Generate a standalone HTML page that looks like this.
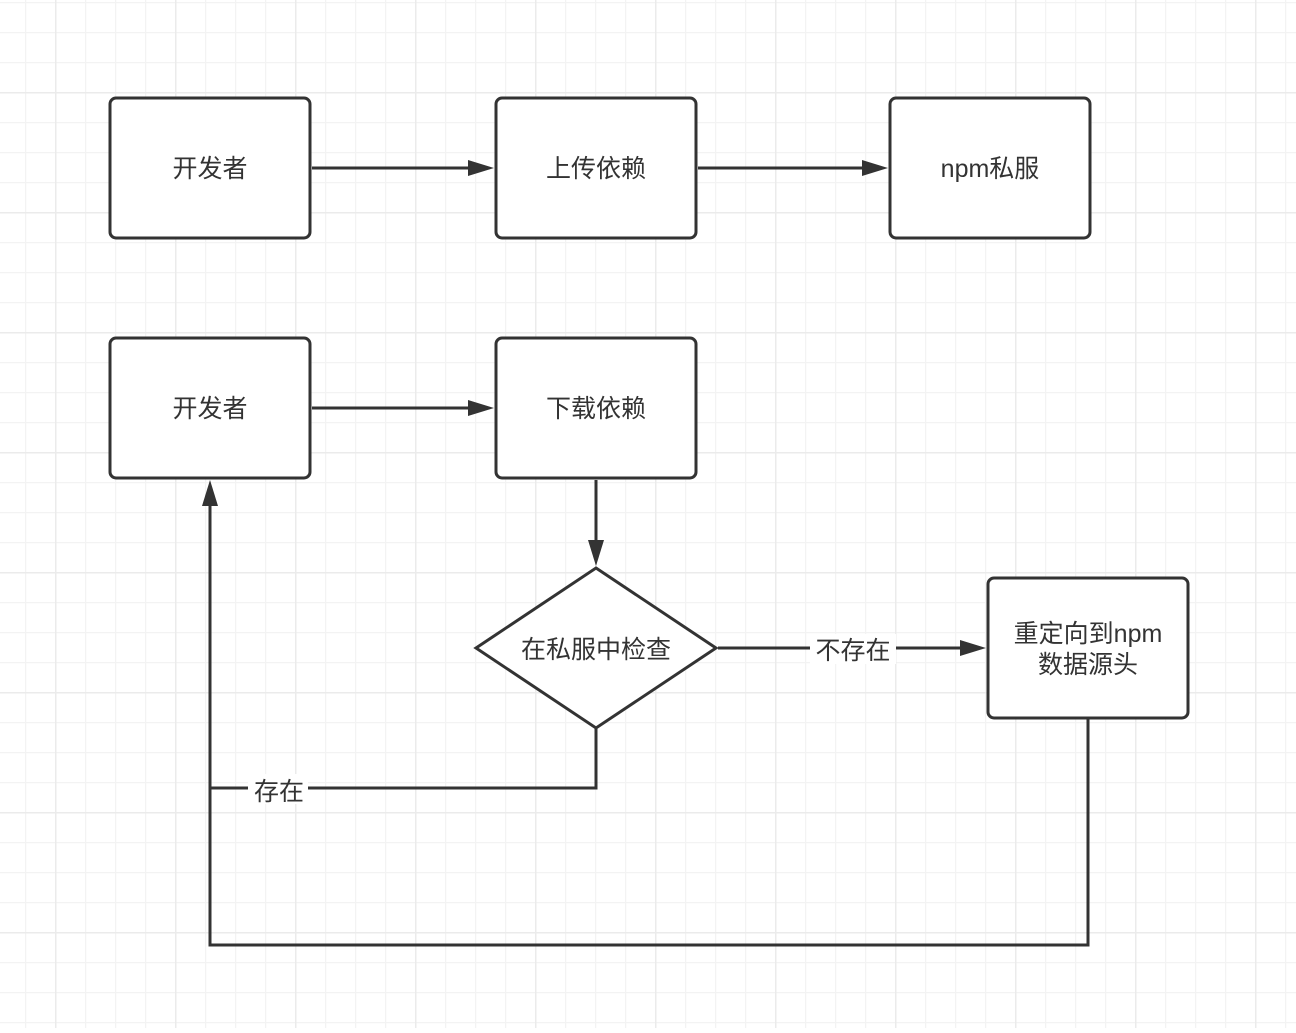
<!DOCTYPE html>
<html><head><meta charset="utf-8"><style>
html,body{margin:0;padding:0;background:#fff;}
svg text{font-family:"Liberation Sans","Noto Sans CJK SC",sans-serif;font-size:25px;fill:#333;}
</style></head><body>
<svg width="1296" height="1028" viewBox="0 0 1296 1028" xmlns="http://www.w3.org/2000/svg">
<defs>
<pattern id="minor" width="30" height="30" patternUnits="userSpaceOnUse" x="25" y="2">
<path d="M0.5 0V30M0 0.5H30" stroke="#f3f3f3" stroke-width="1.5" fill="none"/>
</pattern>
<pattern id="major" width="120" height="120" patternUnits="userSpaceOnUse" x="55" y="92">
<path d="M0.5 0V120M0 0.5H120" stroke="#ebebeb" stroke-width="2" fill="none"/>
</pattern>
</defs>
<rect width="1296" height="1028" fill="#fff"/>
<rect width="1296" height="1028" fill="url(#minor)"/>
<rect width="1296" height="1028" fill="url(#major)"/>
<g stroke="#333" stroke-width="3" fill="#fff">
<rect x="110" y="98" width="200" height="140" rx="6"/>
<rect x="496" y="98" width="200" height="140" rx="6"/>
<rect x="890" y="98" width="200" height="140" rx="6"/>
<rect x="110" y="338" width="200" height="140" rx="6"/>
<rect x="496" y="338" width="200" height="140" rx="6"/>
<rect x="988" y="578" width="200" height="140" rx="6"/>
<polygon points="596,568 716,648 596,728 476,648"/>
</g>
<g stroke="#333" stroke-width="3" fill="none">
<path d="M312 168H470"/>
<path d="M698 168H864"/>
<path d="M312 408H470"/>
<path d="M596 480V542"/>
<path d="M718 648H962"/>
<path d="M596 728V788H210V506"/>
<path d="M1088 718V945H210V780"/>
</g>
<g fill="#333">
<polygon points="494,168 468,160 468,176"/>
<polygon points="888,168 862,160 862,176"/>
<polygon points="494,408 468,400 468,416"/>
<polygon points="596,566 588,540 604,540"/>
<polygon points="986,648 960,640 960,656"/>
<polygon points="210,480 202,506 218,506"/>
</g>
<rect x="810" y="634" width="86" height="30" fill="#fff"/>
<rect x="248" y="774" width="60" height="30" fill="#fff"/>
<g text-anchor="middle">
<text x="210" y="177">开发者</text>
<text x="596" y="177">上传依赖</text>
<text x="990" y="177">npm私服</text>
<text x="210" y="417">开发者</text>
<text x="596" y="417">下载依赖</text>
<text x="596" y="658">在私服中检查</text>
<text x="853" y="659">不存在</text>
<text x="279" y="800">存在</text>
<text x="1088" y="642">重定向到npm</text>
<text x="1088" y="673">数据源头</text>
</g>
</svg>
</body></html>
